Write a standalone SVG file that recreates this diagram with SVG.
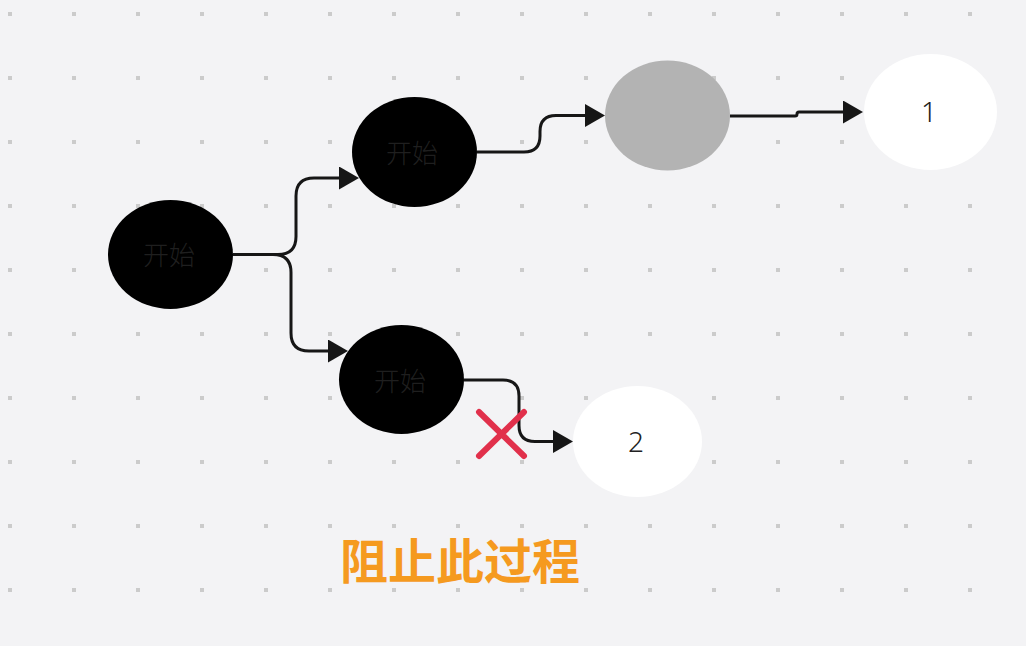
<svg xmlns="http://www.w3.org/2000/svg" width="1026" height="646" viewBox="0 0 1026 646">
  <defs>
    <pattern id="dots" patternUnits="userSpaceOnUse" width="64" height="64">
      <rect x="8" y="12" width="4" height="4" fill="#cbcbcb"/>
    </pattern>
    <marker id="arr" viewBox="0 0 20 23" refX="0" refY="11.5" markerWidth="20" markerHeight="23" markerUnits="userSpaceOnUse" orient="auto">
      <path d="M0,0 L20,11.5 L0,23 Z" fill="#161616"/>
    </marker>
    <style>
      .edge { fill: none; stroke: #161616; stroke-width: 3; marker-end: url(#arr); }
      .lbl { font-family: "Noto Sans CJK SC", "Noto Sans", sans-serif; font-size: 26px; font-weight: 300; fill: #1f1f1f; text-anchor: middle; }
      .num { font-family: "Noto Sans", "Noto Sans CJK SC", sans-serif; font-size: 28px; font-weight: 300; fill: #222222; text-anchor: middle; }
      .title { font-family: "Noto Sans CJK SC", sans-serif; font-size: 48px; font-weight: bold; fill: #f59a1f; text-anchor: middle; }
    </style>
  </defs>
  <rect width="1026" height="646" fill="#f3f3f5"/>
  <rect width="1026" height="646" fill="url(#dots)"/>

  <g id="connectors">
    <path class="edge" d="M233,254.5 H278 Q296,254.5 296,236.5 V196 Q296,178 314,178 H339"/>
    <path class="edge" d="M233,254.5 H273 Q291,254.5 291,272.5 V333 Q291,351 309,351 H328"/>
    <path class="edge" d="M477,152 H524 Q540,152 540,136 V131.5 Q540,115.5 556,115.5 H585"/>
    <path class="edge" d="M730,116 H795 Q797,116 797,114 Q797,112 799,112 H843"/>
    <path class="edge" d="M464,380 H503 Q519,380 519,396 V425.5 Q519,441.5 535,441.5 H553"/>
  </g>

  <g id="node-start">
    <ellipse cx="170.5" cy="254.5" rx="62.5" ry="54.5" fill="#000000"/>
    <text class="lbl" x="169" y="265">开始</text>
  </g>
  <g id="node-top">
    <ellipse cx="414.5" cy="152" rx="62.5" ry="55" fill="#000000"/>
    <text class="lbl" x="412" y="163">开始</text>
  </g>
  <g id="node-bottom">
    <ellipse cx="401.5" cy="379.5" rx="62.5" ry="54.5" fill="#000000"/>
    <text class="lbl" x="400" y="391">开始</text>
  </g>
  <g id="node-gray">
    <ellipse cx="667.5" cy="115.5" rx="62.5" ry="55" fill="#b3b3b3"/>
  </g>
  <g id="node-1">
    <ellipse cx="930.5" cy="112" rx="66.5" ry="58" fill="#ffffff"/>
    <text class="num" x="929" y="122">1</text>
  </g>
  <g id="node-2">
    <ellipse cx="637.5" cy="441.5" rx="64.5" ry="55.5" fill="#ffffff"/>
    <text class="num" x="636" y="452">2</text>
  </g>

  <g id="cross">
    <path d="M479,412 L524,456 M524,412 L479,456" stroke="#e1304b" stroke-width="6" stroke-linecap="round" fill="none"/>
  </g>

  <text class="title" x="460" y="579">阻止此过程</text>
</svg>
